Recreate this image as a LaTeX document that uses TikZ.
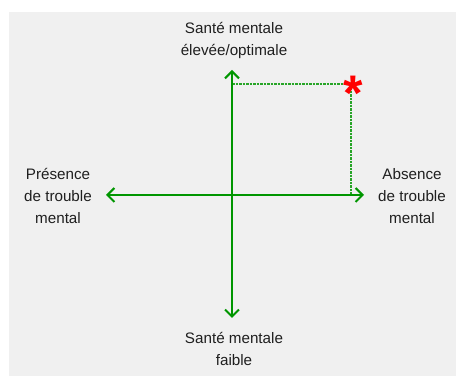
\documentclass[tikz,border=0pt]{standalone}
\usepackage{fontspec}
\setmainfont{Liberation Sans}
\usetikzlibrary{arrows.meta}
\definecolor{axisgreen}{RGB}{0,150,0}
\definecolor{dashgreen}{RGB}{40,165,40}
\definecolor{bggray}{RGB}{240,240,240}
\tikzset{
  axis/.style={draw=axisgreen, line width=2pt, -{Straight Barb[length=7pt,width=14pt,line width=2pt]}},
  guide/.style={draw=dashgreen, line width=1.2pt, dash pattern=on 2.5pt off 1pt},
  lbl/.style={align=center, font=\fontsize{15.2}{22}\selectfont, text=black!88, inner sep=0pt},
}
\begin{document}
\begin{tikzpicture}[x=1pt,y=1pt]
\useasboundingbox (0,0) rectangle (456,377);
\fill[white] (0,0) rectangle (456,377);
\fill[bggray] (9,1) rectangle (456,365);
\coordinate (O) at (232,182);
\coordinate (T) at (232,307);
\coordinate (B) at (232,59);
\coordinate (L) at (106,182);
\coordinate (R) at (364,182);
\coordinate (P) at (351,293);
\coordinate (PX) at (351,182);
\coordinate (PY) at (232,293);
\draw[guide] (PY) -- (P) -- (PX);
\draw[axis] (O) -- (T);
\draw[axis] (O) -- (B);
\draw[axis] (O) -- (L);
\draw[axis] (O) -- (R);
\node[text=red, font=\fontsize{50}{50}\bfseries\selectfont, inner sep=0pt, anchor=base] (star) at (353,266.5) {*};
\node[lbl] (top) at (234,337) {Santé mentale\\élevée/optimale};
\node[lbl] (bot) at (234,28.5) {Santé mentale\\faible};
\node[lbl] (left) at (58,181) {Présence\\de trouble\\mental};
\node[lbl] (right) at (412,181) {Absence\\de trouble\\mental};
\end{tikzpicture}
\end{document}
